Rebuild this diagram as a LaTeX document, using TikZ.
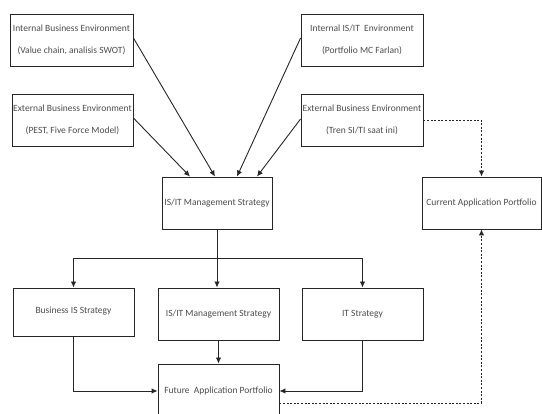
\documentclass[tikz,border=0pt]{standalone}
\usepackage{fontspec}
\setmainfont{Carlito}
\usetikzlibrary{arrows.meta,calc}
\begin{document}
\begin{tikzpicture}[x=1pt,y=-1pt,
  box/.style={draw=black!85,line width=0.9pt,rectangle,inner sep=0pt,align=center,
    font=\fontsize{9.5}{11}\selectfont,text=black!70},
  conn/.style={draw=black!85,line width=0.9pt,-{Latex[length=6pt,width=5.5pt]}},
  dconn/.style={conn,dash pattern=on 2pt off 1.6pt}]
\useasboundingbox (0,0) rectangle (542,414);
\begin{scope}
\clip (0,0) rectangle (542,414);
\node[box,minimum width=123pt,minimum height=52pt] (ib) at (71.5,40) {Internal Business Environment\\[10.5pt](Value chain, analisis SWOT)};
\node[box,minimum width=121pt,minimum height=52pt] (eb) at (72.5,120) {External Business Environment\\[10.5pt](PEST, Five Force Model)};
\node[box,minimum width=122pt,minimum height=52pt] (ii) at (362,40) {Internal IS/IT\ \ Environment\\[10.5pt](Portfolio MC Farlan)};
\node[box,minimum width=122pt,minimum height=52pt] (et) at (362,120) {External Business Environment\\[10.5pt](Tren SI/TI saat ini)};
\node[box,minimum width=110pt,minimum height=52pt] (ms) at (217,203) {IS/IT Management Strategy};
\node[box,minimum width=119pt,minimum height=52pt] (cap) at (481.5,203) {Current Application Portfolio};
\node[box,minimum width=121pt,minimum height=48pt] (bis) at (73.5,312) {\raisebox{3pt}{Business IS Strategy}};
\node[box,minimum width=121pt,minimum height=52pt] (ms2) at (218.5,314) {IS/IT Management Strategy};
\node[box,minimum width=121pt,minimum height=52pt] (its) at (362.5,314) {IT Strategy};
\node[box,minimum width=121pt,minimum height=54pt] (fap) at (218.5,391) {\raisebox{-1pt}{Future\ \ Application Portfolio}};
\draw[conn] ([yshift=2pt]ib.east) -- ([xshift=-2pt]ms.north);
\draw[conn] ([yshift=2pt]eb.east) -- ([xshift=-27pt]ms.north);
\draw[conn] ([yshift=2pt]ii.west) -- ([xshift=20pt]ms.north);
\draw[conn] ([yshift=1pt]et.west) -- ([xshift=40pt]ms.north);
\coordinate (sp) at (ms.south |- 0,258);
\draw[conn] (ms.south) -- (sp) -| (bis.north);
\draw[conn] (sp) -| (its.north);
\draw[conn] (sp) -- (ms2.north -| sp);
\draw[conn] (bis.south) |- (fap.west);
\draw[conn] (its.south) |- (fap.east);
\draw[conn] (ms2.south) -- (fap.north);
\draw[dconn] (et.east) -| (cap.north);
\draw[dconn] ([yshift=-12pt]fap.east) -| (cap.south);
\end{scope}
\end{tikzpicture}
\end{document}
